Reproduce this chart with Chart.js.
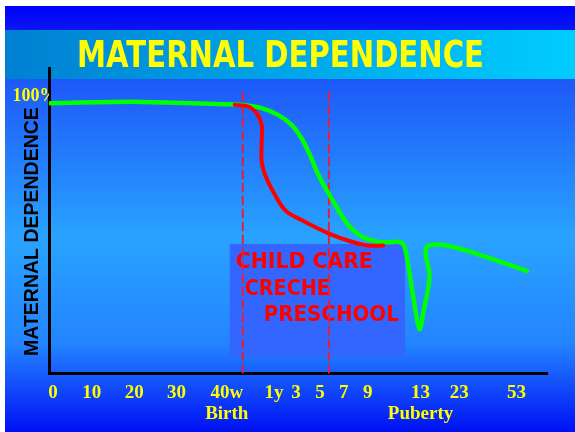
<!DOCTYPE html>
<html>
<head>
<meta charset="utf-8">
<script src="https://cdn.jsdelivr.net/npm/chart.js@4"></script>
<style>
  html, body { margin: 0; padding: 0; background: #fff; overflow: hidden; }
  #wrap { width: 575px; height: 432px; position: relative; }
</style>
</head>
<body>
<div id="wrap"><canvas id="myChart"></canvas></div>
<script>
// x is the drawn timeline (weeks of pregnancy, then years), 0..100 along the axis
const tickLabels = ['0', '10', '20', '30', ['40w', 'Birth'], '1y', '3', '5', '7', '9', ['13', 'Puberty'], '23', '53'];
const tickPos = [0.8, 8.6, 17.1, 25.6, 35.7, 45.2, 49.6, 54.4, 59.2, 64.0, 74.6, 82.4, 93.9];

// maternal dependence, % (green)
const greenX = [0.2, 18.3, 36.0, 38.7, 42.7, 46.0, 48.7, 50.7, 52.4, 54.1, 56.1, 58.1, 60.1, 62.8, 66.1, 68.6, 70.1, 71.2, 71.9, 73.2, 74.4, 75.2, 76.4, 75.6, 76.2, 79.9, 86.6, 96.0];
const greenY = [99.7, 100.2, 99.3, 99.1, 97.9, 95.4, 91.7, 86.8, 80.6, 73.2, 66.5, 60.3, 54.8, 50.5, 48.6, 48.4, 48.6, 47.5, 42.5, 27.7, 16.4, 22.8, 35.7, 44.9, 47.2, 47.2, 43.7, 37.8];

// with child care (red)
const redX = [37.3, 40.0, 41.7, 42.7, 42.7, 42.7, 43.4, 45.0, 47.4, 50.7, 56.1, 60.8, 64.1, 67.1];
const redY = [99.1, 98.5, 96.0, 91.7, 85.5, 78.2, 73.2, 67.1, 60.3, 56.6, 51.7, 48.6, 47.2, 47.2];

// dashed markers and the child care period
const markX = [38.9, 56.2];
const markTop = 104.6;
const boxX = [36.3, 71.5];
const boxY = [6.2, 47.8];
const boxLines = ['CHILD CARE', 'CRECHE', 'PRESCHOOL'];

const pts = (xs, ys) => xs.map((x, i) => ({x: x, y: ys[i]}));

const backdrop = {
    id: 'backdrop',
    beforeDraw(chart) {
        const ctx = chart.ctx;
        const w = chart.width, h = chart.height;
        ctx.save();
        ctx.fillStyle = '#fff';
        ctx.fillRect(0, 0, w, h);
        // main panel
        let g = ctx.createLinearGradient(0, 79, 0, h);
        g.addColorStop(0, '#1d58f8');
        g.addColorStop(0.45, '#29a3ff');
        g.addColorStop(0.75, '#2384ff');
        g.addColorStop(1, '#0010f5');
        ctx.fillStyle = g;
        ctx.fillRect(5, 79, w - 5, h - 79);
        // top band
        g = ctx.createLinearGradient(0, 6, 0, 30);
        g.addColorStop(0, '#0000ff');
        g.addColorStop(1, '#0a16f0');
        ctx.fillStyle = g;
        ctx.fillRect(5, 6, w - 5, 24);
        // title band
        g = ctx.createLinearGradient(5, 0, w, 0);
        g.addColorStop(0, '#0080d2');
        g.addColorStop(1, '#00ccff');
        ctx.fillStyle = g;
        ctx.fillRect(5, 30, w - 5, 49);
        ctx.fillStyle = '#ffff00';
        ctx.font = 'bold 37px "DejaVu Sans"';
        ctx.textAlign = 'center';
        ctx.textBaseline = 'alphabetic';
        ctx.fillText('MATERNAL DEPENDENCE', 280.5, 67, 407);
        ctx.restore();
    },
    beforeDatasetsDraw(chart) {
        const ctx = chart.ctx;
        const xs = chart.scales.x, ys = chart.scales.y;
        const l = xs.getPixelForValue(boxX[0]), r = xs.getPixelForValue(boxX[1]);
        const t = ys.getPixelForValue(boxY[1]), b = ys.getPixelForValue(boxY[0]);
        ctx.save();
        ctx.fillStyle = '#3366ff';
        ctx.fillRect(l, t, r - l, b - t);
        ctx.fillStyle = '#ff0000';
        ctx.font = 'bold 22px "DejaVu Sans"';
        ctx.textAlign = 'left';
        ctx.textBaseline = 'alphabetic';
        const indent = [6, 15, 34];
        const widths = [137, 85, 135];
        boxLines.forEach((s, i) => ctx.fillText(s, l + indent[i], t + 24 + i * 26.7, widths[i]));
        ctx.restore();
    }
};

const datasets = [
    {data: pts(redX, redY), borderColor: '#ff0000', borderWidth: 4},
    {data: pts(greenX, greenY), borderColor: '#00ff00', borderWidth: 4.5}
];
for (let i = 0; i < markX.length; i++) {
    datasets.push({
        data: [{x: markX[i], y: 0}, {x: markX[i], y: markTop}],
        borderColor: '#e0203c',
        borderWidth: 2,
        borderDash: [8, 5],
        tension: 0
    });
}

let myChart = new Chart('myChart', {
    type: 'line',
    data: {datasets: datasets},
    options: {
        responsive: true,
        maintainAspectRatio: false,
        animation: false,
        layout: {padding: {top: 68, right: 28, left: 0, bottom: 0}},
        elements: {
            point: {radius: 0},
            line: {tension: 0.35, borderCapStyle: 'round', borderJoinStyle: 'round'}
        },
        plugins: {legend: {display: false}, tooltip: {enabled: false}},
        scales: {
            x: {
                type: 'linear',
                min: 0,
                max: 100,
                grid: {color: 'transparent', drawTicks: false},
                border: {color: '#000', width: 3},
                afterBuildTicks: s => { s.ticks = tickPos.map(v => ({value: v})); },
                afterFit: s => { s.height = 58.5; },
                ticks: {
                    padding: 9,
                    color: '#ffff00',
                    maxRotation: 0,
                    autoSkip: false,
                    font: {family: '"Liberation Serif", serif', size: 19, weight: 'bold', lineHeight: 1.1},
                    callback: (v, i) => tickLabels[i]
                }
            },
            y: {
                min: 0,
                max: 112.7,
                grid: {color: 'transparent', drawTicks: false},
                border: {color: '#000', width: 3},
                afterBuildTicks: s => { s.ticks = [{value: 100}]; },
                afterFit: s => { s.width = 49; },
                title: {
                    display: true,
                    // trailing spaces push the rotated text down to where the original sits
                    text: 'MATERNAL DEPENDENCE\u00a0\u00a0\u00a0\u00a0',
                    color: '#000',
                    padding: {top: 21, bottom: 0},
                    font: {family: '"Liberation Sans", sans-serif', size: 19.5, weight: 'bold', lineHeight: 1.2}
                },
                ticks: {
                    padding: -8.5,
                    labelOffset: -6,
                    color: '#ffff00',
                    font: {family: '"Liberation Serif", serif', size: 18, weight: 'bold'},
                    callback: v => v + '%'
                }
            }
        }
    },
    plugins: [backdrop]
});
</script>
</body>
</html>
